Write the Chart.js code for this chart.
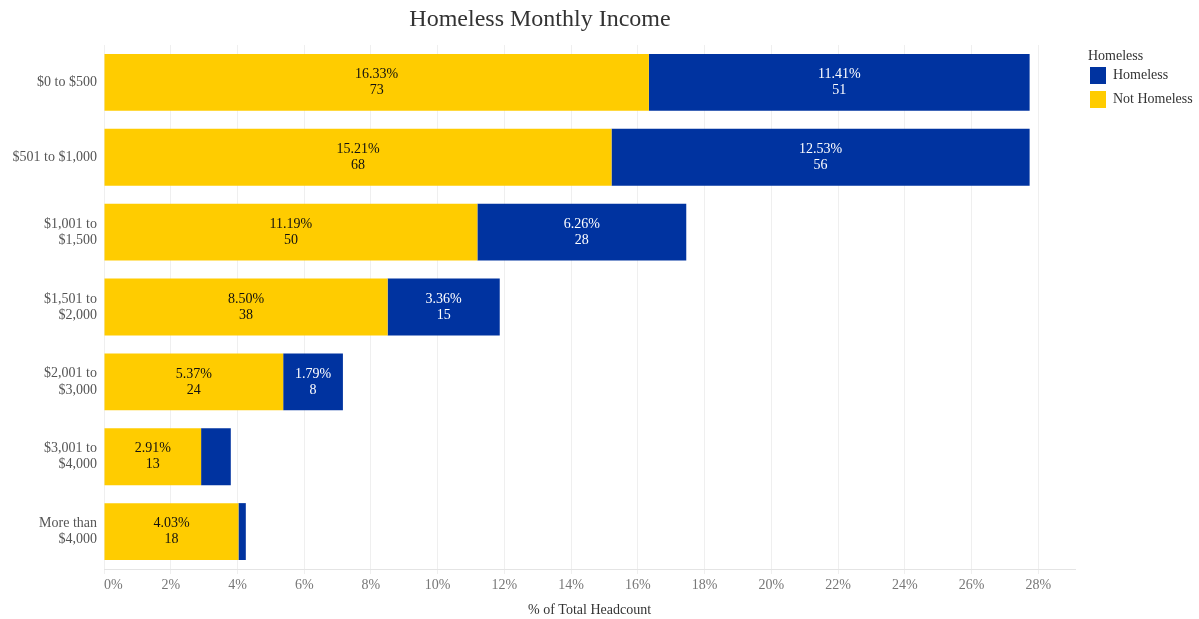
<!DOCTYPE html>
<html>
<head>
<meta charset="utf-8">
<script src="https://cdn.jsdelivr.net/npm/chart.js@4/dist/chart.umd.min.js"></script>
<style>
  html, body { margin: 0; padding: 0; background: #ffffff; }
  #wrap { width: 1199px; height: 619px; position: relative; }
</style>
</head>
<body>
<div id="wrap"><canvas id="chart" width="1199" height="619"></canvas></div>
<script>
// Monthly income brackets
const categories = [
  '$0 to $500',
  '$501 to $1,000',
  ['$1,001 to', '$1,500'],
  ['$1,501 to', '$2,000'],
  ['$2,001 to', '$3,000'],
  ['$3,001 to', '$4,000'],
  ['More than', '$4,000']
];

// Share of total headcount (%) and headcount per bracket
const notHomelessPct   = [16.33, 15.21, 11.19, 8.50, 5.37, 2.91, 4.03];
const notHomelessCount = [73, 68, 50, 38, 24, 13, 18];
const homelessPct      = [11.41, 12.53, 6.26, 3.36, 1.79, 0.89, 0.22];
const homelessCount    = [51, 56, 28, 15, 8, 4, 1];

const xTickValues = [0, 2, 4, 6, 8, 10, 12, 14, 16, 18, 20, 22, 24, 26, 28];
const xAxisMax = 29.1;

const SERIF = '"Liberation Serif", "Times New Roman", serif';
const YELLOW = '#FFCC00';
const BLUE = '#0033A0';

// Two-line value labels (percent + count) centred in each segment
const segmentLabels = {
  id: 'segmentLabels',
  afterDatasetsDraw(chart) {
    const ctx = chart.ctx;
    ctx.save();
    ctx.font = '14px ' + SERIF;
    ctx.textAlign = 'center';
    ctx.textBaseline = 'middle';
    chart.data.datasets.forEach((ds, di) => {
      const meta = chart.getDatasetMeta(di);
      meta.data.forEach((bar, i) => {
        const pct = ds.data[i];
        if (pct < 1) return;
        const cx = (bar.x + bar.base) / 2;
        ctx.fillStyle = ds.labelColor;
        ctx.fillText(pct.toFixed(2) + '%', cx, bar.y - 8);
        ctx.fillText(String(ds.counts[i]), cx, bar.y + 8);
      });
    });
    ctx.restore();
  }
};

// Chart heading and colour legend
const headerAndLegend = {
  id: 'headerAndLegend',
  afterDraw(chart) {
    const ctx = chart.ctx;
    ctx.save();
    ctx.fillStyle = '#333333';
    ctx.font = '24px ' + SERIF;
    ctx.textAlign = 'center';
    ctx.textBaseline = 'middle';
    ctx.fillText('Homeless Monthly Income', 540, 20);

    ctx.textAlign = 'left';
    ctx.font = '14px ' + SERIF;
    ctx.fillText('Homeless', 1088, 56);
    const items = [chart.data.datasets[1], chart.data.datasets[0]];
    items.forEach((ds, k) => {
      const top = 67 + k * 24;
      ctx.fillStyle = ds.backgroundColor;
      ctx.fillRect(1090, top, 16, 17);
      ctx.fillStyle = '#333333';
      ctx.fillText(ds.label, 1113, top + 8.5);
    });
    ctx.restore();
  }
};

new Chart(document.getElementById('chart'), {
  type: 'bar',
  data: {
    labels: categories,
    datasets: [
      {
        label: 'Not Homeless',
        data: notHomelessPct,
        counts: notHomelessCount,
        backgroundColor: YELLOW,
        labelColor: '#111111',
        barPercentage: 0.76,
        categoryPercentage: 1
      },
      {
        label: 'Homeless',
        data: homelessPct,
        counts: homelessCount,
        backgroundColor: BLUE,
        labelColor: '#ffffff',
        barPercentage: 0.76,
        categoryPercentage: 1
      }
    ]
  },
  options: {
    indexAxis: 'y',
    responsive: false,
    animation: false,
    layout: { padding: { top: 45, right: 124, bottom: 0, left: 0 } },
    plugins: {
      legend: { display: false },
      title: { display: false },
      tooltip: { enabled: false }
    },
    scales: {
      x: {
        stacked: true,
        min: 0,
        max: xAxisMax,
        afterBuildTicks(scale) {
          // the axis end carries an invisible tick so only the 0% label is inset
          scale.ticks = xTickValues.map(v => ({ value: v })).concat([{ value: xAxisMax }]);
        },
        afterFit(scale) { scale.height = 50; },
        grid: {
          color: ctx => (ctx.tick && ctx.tick.value === xAxisMax) ? 'rgba(0,0,0,0)' : '#efefef',
          lineWidth: 1,
          tickLength: 5
        },
        border: { color: '#e4e4e4' },
        ticks: {
          color: '#777777',
          font: { family: SERIF, size: 14 },
          padding: 3,
          align: 'inner',
          callback: v => (v === xAxisMax ? '' : v + '%')
        },
        title: {
          display: true,
          text: '% of Total Headcount',
          color: '#333333',
          font: { family: SERIF, size: 14 },
          padding: { top: 4, bottom: 0 }
        }
      },
      y: {
        stacked: true,
        afterFit(scale) { scale.width = 104; },
        grid: { display: false, drawTicks: false },
        border: { display: false },
        ticks: {
          color: '#555555',
          font: { family: SERIF, size: 14, lineHeight: 1.15 },
          padding: 7
        }
      }
    }
  },
  plugins: [segmentLabels, headerAndLegend]
});
</script>
</body>
</html>
